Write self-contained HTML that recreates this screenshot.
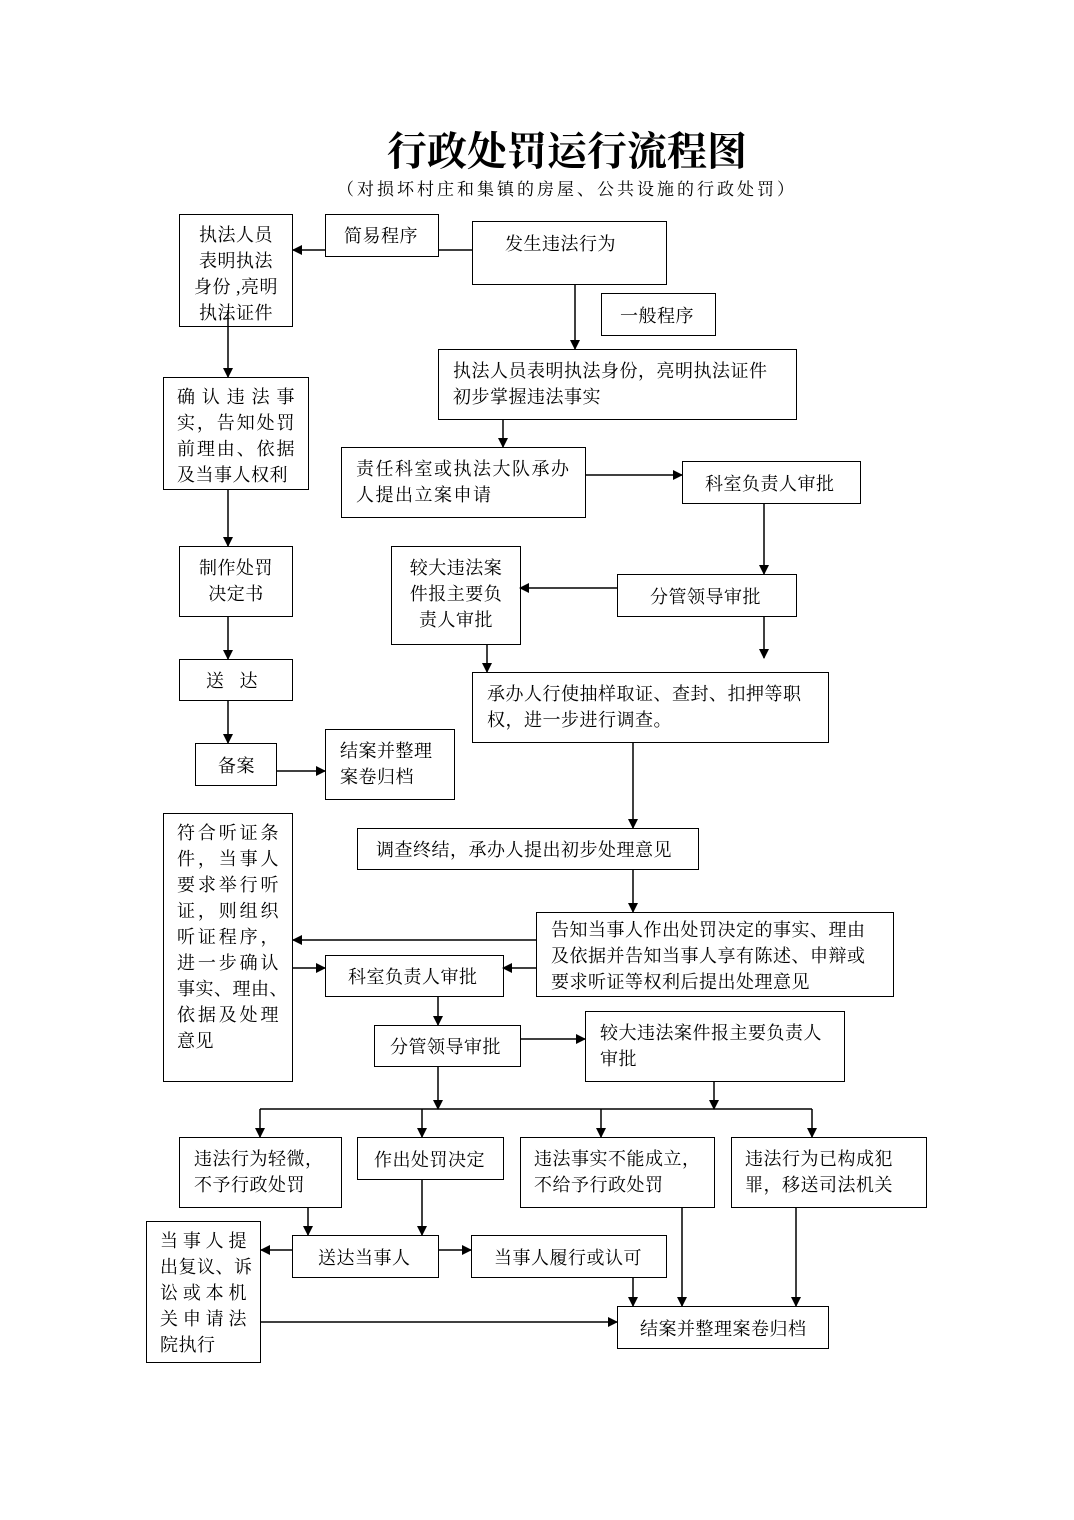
<!DOCTYPE html>
<html><head><meta charset="utf-8"><style>
body{margin:0;background:#fff;}
#c{position:relative;width:1074px;height:1520px;overflow:hidden;font-family:"Liberation Serif","Noto Serif CJK SC",serif;color:#000;}
.b{position:absolute;border:1.5px solid #000;box-sizing:border-box;font-size:18px;line-height:26px;padding:6px 12px;white-space:nowrap;letter-spacing:0.5px;}
.j div{text-align:justify;text-align-last:justify;}
.j div.l{text-align-last:left;}
.t{position:absolute;left:0;width:1074px;text-align:center;}
svg{position:absolute;left:0;top:0;}
</style></head><body><div id="c">
<div class="t" style="top:128px;font-size:40px;font-weight:bold;line-height:48px;padding-left:60px;box-sizing:border-box;">行政处罚运行流程图</div>
<div class="t" style="top:175px;font-size:17px;letter-spacing:3px;padding-left:60px;box-sizing:border-box;">（对损坏村庄和集镇的房屋、公共设施的行政处罚）</div>
<svg width="1074" height="1520"><defs><marker id="a" markerWidth="10" markerHeight="10" refX="9" refY="5" orient="auto" markerUnits="userSpaceOnUse"><path d="M0,0L10,5L0,10z"/></marker></defs>
<g stroke="#000" stroke-width="1.5" fill="none">
<line x1="472" y1="250" x2="438" y2="250"/><line x1="325" y1="250" x2="293" y2="250" marker-end="url(#a)"/>
<line x1="575" y1="284" x2="575" y2="349" marker-end="url(#a)"/>
<line x1="228" y1="310" x2="228" y2="377" marker-end="url(#a)"/>
<line x1="503" y1="419" x2="503" y2="447" marker-end="url(#a)"/>
<line x1="585" y1="475" x2="682" y2="475" marker-end="url(#a)"/>
<line x1="764" y1="503" x2="764" y2="574" marker-end="url(#a)"/>
<line x1="617" y1="588" x2="520" y2="588" marker-end="url(#a)"/>
<line x1="487" y1="644" x2="487" y2="672" marker-end="url(#a)"/>
<line x1="764" y1="616" x2="764" y2="658" marker-end="url(#a)"/>
<line x1="228" y1="489" x2="228" y2="546" marker-end="url(#a)"/>
<line x1="228" y1="616" x2="228" y2="659" marker-end="url(#a)"/>
<line x1="228" y1="700" x2="228" y2="743" marker-end="url(#a)"/>
<line x1="276" y1="771" x2="325" y2="771" marker-end="url(#a)"/>
<line x1="633" y1="742" x2="633" y2="828" marker-end="url(#a)"/>
<line x1="633" y1="869" x2="633" y2="912" marker-end="url(#a)"/>
<line x1="536" y1="940" x2="293" y2="940" marker-end="url(#a)"/>
<line x1="536" y1="968" x2="503" y2="968" marker-end="url(#a)"/>
<line x1="292" y1="968" x2="325" y2="968" marker-end="url(#a)"/>
<line x1="438" y1="996" x2="438" y2="1025" marker-end="url(#a)"/>
<line x1="520" y1="1039" x2="585" y2="1039" marker-end="url(#a)"/>
<line x1="438" y1="1066" x2="438" y2="1109" marker-end="url(#a)"/>
<line x1="714" y1="1081" x2="714" y2="1109" marker-end="url(#a)"/>
<line x1="260" y1="1109" x2="812" y2="1109"/>
<line x1="260" y1="1109" x2="260" y2="1137" marker-end="url(#a)"/>
<line x1="422" y1="1109" x2="422" y2="1137" marker-end="url(#a)"/>
<line x1="601" y1="1109" x2="601" y2="1137" marker-end="url(#a)"/>
<line x1="812" y1="1109" x2="812" y2="1137" marker-end="url(#a)"/>
<line x1="308" y1="1207" x2="308" y2="1235" marker-end="url(#a)"/>
<line x1="422" y1="1179" x2="422" y2="1235" marker-end="url(#a)"/>
<line x1="292" y1="1250" x2="261" y2="1250" marker-end="url(#a)"/>
<line x1="438" y1="1250" x2="471" y2="1250" marker-end="url(#a)"/>
<line x1="633" y1="1277" x2="633" y2="1306" marker-end="url(#a)"/>
<line x1="682" y1="1207" x2="682" y2="1306" marker-end="url(#a)"/>
<line x1="796" y1="1207" x2="796" y2="1306" marker-end="url(#a)"/>
<line x1="260" y1="1322" x2="617" y2="1322" marker-end="url(#a)"/>
</g></svg>
<div class="b" style="left:179px;top:214px;width:114px;height:113px;text-align:center;padding:7px 2px;">执法人员<br>表明执法<br>身份 ,亮明<br>执法证件</div>
<div class="b" style="left:325px;top:214px;width:114px;height:43px;padding:8px 18px;">简易程序</div>
<div class="b" style="left:472px;top:221px;width:195px;height:64px;padding:9px 32px;">发生违法行为</div>
<div class="b" style="left:601px;top:293px;width:115px;height:43px;padding:9px 18px;">一般程序</div>
<div class="b" style="left:438px;top:349px;width:359px;height:71px;padding:8px 14px;">执法人员表明执法身份，亮明执法证件<br>初步掌握违法事实</div>
<div class="b j" style="left:163px;top:377px;width:146px;height:113px;padding:6px 13px;"><div>确认违法事</div><div>实，告知处罚</div><div>前理由、依据</div><div class="l">及当事人权利</div></div>
<div class="b" style="left:341px;top:447px;width:245px;height:71px;padding:8px 14px;letter-spacing:1.5px;">责任科室或执法大队承办<br>人提出立案申请</div>
<div class="b" style="left:682px;top:461px;width:179px;height:43px;padding:9px 22px;">科室负责人审批</div>
<div class="b" style="left:179px;top:546px;width:114px;height:71px;text-align:center;padding:8px 2px;">制作处罚<br>决定书</div>
<div class="b" style="left:391px;top:546px;width:130px;height:99px;text-align:center;padding:8px 2px;">较大违法案<br>件报主要负<br>责人审批</div>
<div class="b" style="left:617px;top:574px;width:180px;height:43px;padding:9px 32px;">分管领导审批</div>
<div class="b" style="left:179px;top:659px;width:114px;height:42px;padding:8px 26px;">送&nbsp;&nbsp;&nbsp;达</div>
<div class="b" style="left:472px;top:672px;width:357px;height:71px;padding:8px 14px;">承办人行使抽样取证、查封、扣押等职<br>权，进一步进行调查。</div>
<div class="b" style="left:195px;top:743px;width:82px;height:43px;padding:9px 22px;">备案</div>
<div class="b" style="left:325px;top:729px;width:130px;height:71px;padding:8px 14px;">结案并整理<br>案卷归档</div>
<div class="b" style="left:357px;top:828px;width:342px;height:42px;padding:8px 18px;">调查终结，承办人提出初步处理意见</div>
<div class="b j" style="left:163px;top:813px;width:130px;height:269px;padding:6px 13px;"><div>符合听证条</div><div>件，当事人</div><div>要求举行听</div><div>证，则组织</div><div>听证程序，</div><div>进一步确认</div><div>事实、理由、</div><div>依据及处理</div><div class="l">意见</div></div>
<div class="b" style="left:536px;top:912px;width:358px;height:85px;padding:4px 14px;">告知当事人作出处罚决定的事实、理由<br>及依据并告知当事人享有陈述、申辩或<br>要求听证等权利后提出处理意见</div>
<div class="b" style="left:325px;top:955px;width:179px;height:42px;padding:8px 22px;">科室负责人审批</div>
<div class="b" style="left:374px;top:1025px;width:147px;height:42px;padding:8px 15px;">分管领导审批</div>
<div class="b" style="left:585px;top:1011px;width:260px;height:71px;padding:8px 14px;">较大违法案件报主要负责人<br>审批</div>
<div class="b" style="left:179px;top:1137px;width:163px;height:71px;padding:8px 14px;">违法行为轻微，<br>不予行政处罚</div>
<div class="b" style="left:357px;top:1137px;width:147px;height:43px;padding:9px 16px;">作出处罚决定</div>
<div class="b" style="left:520px;top:1137px;width:195px;height:71px;padding:8px 13px;">违法事实不能成立，<br>不给予行政处罚</div>
<div class="b" style="left:731px;top:1137px;width:196px;height:71px;padding:8px 13px;">违法行为已构成犯<br>罪，移送司法机关</div>
<div class="b j" style="left:146px;top:1221px;width:115px;height:142px;padding:6px 13px;"><div>当事人提</div><div>出复议、诉</div><div>讼或本机</div><div>关申请法</div><div class="l">院执行</div></div>
<div class="b" style="left:292px;top:1235px;width:147px;height:43px;padding:9px 25px;">送达当事人</div>
<div class="b" style="left:471px;top:1235px;width:196px;height:43px;padding:9px 22px;">当事人履行或认可</div>
<div class="b" style="left:617px;top:1306px;width:212px;height:43px;padding:9px 22px;">结案并整理案卷归档</div>
</div></body></html>
